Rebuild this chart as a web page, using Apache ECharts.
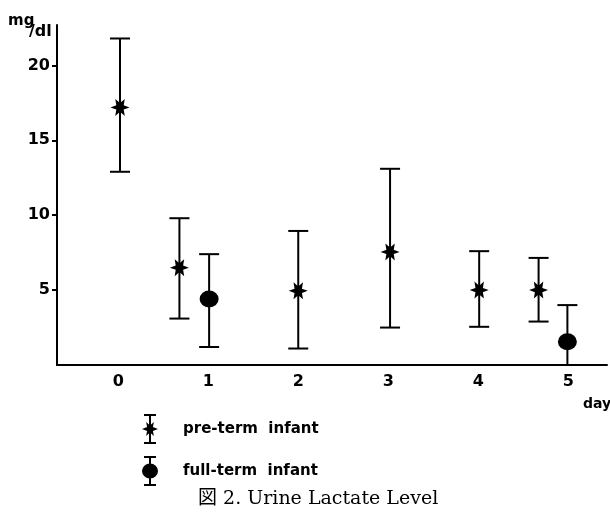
<!DOCTYPE html>
<html><head><meta charset="utf-8">
<script src="https://cdn.jsdelivr.net/npm/echarts@6/dist/echarts.min.js"></script>
<style>html,body{margin:0;padding:0;background:#fff}#c{width:610px;height:517px}</style>
</head><body><div id="c"></div>
<script>
// data: [day, mean, low, high]
const preTerm = [
  [0.02, 17.2, 12.9, 21.8],
  [0.68, 6.5, 3.1, 9.8],
  [2.0, 4.95, 1.1, 8.95],
  [3.02, 7.55, 2.5, 13.1],
  [4.01, 5.0, 2.55, 7.6],
  [4.67, 5.0, 2.9, 7.15]
];
const fullTerm = [
  [1.01, 4.4, 1.2, 7.4],
  [4.99, 1.55, 0, 4.0]
];
const xTicks = [0, 1, 2, 3, 4, 5];
const yTicks = [5, 10, 15, 20];

const star = 'path://M20 10L13.9 12.25L15 18.66L10 14.5L5 18.66L6.1 12.25L0 10L6.1 7.75L5 1.34L10 5.5L15 1.34L13.9 7.75Z';
const starLegend = 'path://M4 0H16V2H4Z M9 0H11V30H9Z M4 28H16V30H4Z M18 15L12.9 16.9L13.9 22L10 18.6L6.1 22L7.1 16.9L2 15L7.1 13.1L6.1 8L10 11.4L13.9 8L12.9 13.1Z';
const dotLegend = 'path://M4 0H16V2H4Z M9 0H11V30H9Z M4 28H16V30H4Z M10 7.5A8 7.5 0 1 1 9.99 7.5Z';

function errRender(params, api) {
  const x = api.value(0), lo = api.value(1), hi = api.value(2);
  const pLo = api.coord([x, lo]), pHi = api.coord([x, hi]);
  const w = 10;
  const st = {stroke: '#000', lineWidth: 2};
  return {type: 'group', children: [
    {type: 'line', shape: {x1: pLo[0], y1: pLo[1], x2: pHi[0], y2: pHi[1]}, style: st},
    {type: 'line', shape: {x1: pHi[0]-w, y1: pHi[1], x2: pHi[0]+w, y2: pHi[1]}, style: st},
    {type: 'line', shape: {x1: pLo[0]-w, y1: pLo[1], x2: pLo[0]+w, y2: pLo[1]}, style: st}
  ]};
}

const chart = echarts.init(document.getElementById('c'));
const SANS = 'DejaVu Sans, Liberation Sans, sans-serif';
const labelFont = {color: '#000', fontWeight: 'bold', fontSize: 16, fontFamily: SANS};
chart.setOption({
  animation: false,
  backgroundColor: '#fff',
  grid: {left: 57, right: 3, top: 25, bottom: 152},
  xAxis: {
    type: 'value', min: -0.68, max: 5.43,
    axisLine: {onZero: false, lineStyle: {color: '#000', width: 2}},
    axisTick: {show: false},
    splitLine: {show: false},
    axisLabel: Object.assign({margin: 9, customValues: xTicks, formatter: v => String(v)}, labelFont)
  },
  yAxis: {
    type: 'value', min: 0, max: 22.7,
    axisLine: {show: true, onZero: false, lineStyle: {color: '#000', width: 2}},
    axisTick: {show: true, length: 5, lineStyle: {color: '#000', width: 2}, customValues: yTicks},
    splitLine: {show: false},
    axisLabel: Object.assign({margin: 7, customValues: yTicks, formatter: v => String(v)}, labelFont)
  },
  legend: {
    orient: 'vertical', left: 137, top: 409, itemWidth: 20, itemHeight: 30, itemGap: 12,
    textStyle: {color: '#000', fontWeight: 'bold', fontSize: 15, fontFamily: SANS, padding: [0, 0, 0, 18]},
    data: [
      {name: 'pre-term  infant', icon: starLegend, itemStyle: {color: '#000'}},
      {name: 'full-term  infant', icon: dotLegend, itemStyle: {color: '#000'}}
    ]
  },
  series: [
    {type: 'custom', name: 'pre-err', renderItem: errRender, data: preTerm.map(d => [d[0], d[2], d[3]]), z: 2},
    {type: 'custom', name: 'full-err', renderItem: errRender, data: fullTerm.map(d => [d[0], d[2], d[3]]), z: 2},
    {type: 'scatter', name: 'pre-term  infant', symbol: star, symbolSize: [19, 17], symbolKeepAspect: false,
     itemStyle: {color: '#000', opacity: 1}, data: preTerm.map(d => [d[0], d[1]]), z: 3},
    {type: 'scatter', name: 'full-term  infant', symbol: 'circle', symbolSize: [19, 17],
     itemStyle: {color: '#000', opacity: 1}, data: fullTerm.map(d => [d[0], d[1]]), z: 3}
  ],
  graphic: [
    {type: 'text', x: 8, y: 29, style: {text: 'mg', fill: '#000', font: 'bold 15px ' + SANS, verticalAlign: 'bottom'}},
    {type: 'text', x: 29, y: 40, style: {text: '/dl', fill: '#000', font: 'bold 16px ' + SANS, verticalAlign: 'bottom'}},
    {type: 'text', left: 583, top: 397, style: {text: 'day', fill: '#000', font: 'bold 14px ' + SANS}},
    {type: 'text', left: 198, top: 490, style: {text: '図 2. Urine Lactate Level', fill: '#000', font: '19px DejaVu Serif, Noto Sans CJK JP, serif'}}
  ]
});
</script></body></html>
